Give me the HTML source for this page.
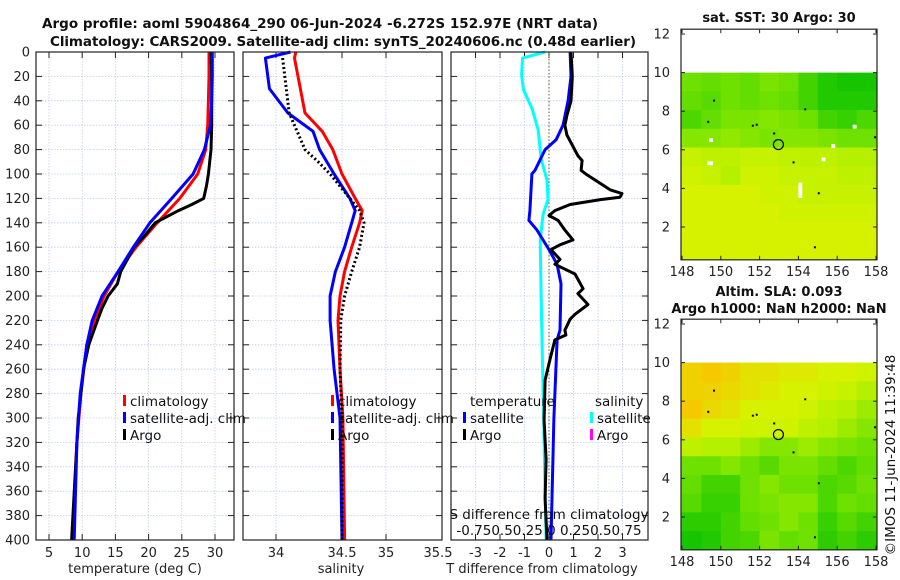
<!DOCTYPE html>
<html><head><meta charset="utf-8"><style>
html,body{margin:0;padding:0;background:#fff;}
svg{display:block;font-family:"DejaVu Sans","Liberation Sans",sans-serif;}
</style></head><body>
<svg id="fig" width="900" height="580" viewBox="0 0 900 580"></svg>
<script>
// ---------- data ----------
const depthTicks = [0,20,40,60,80,100,120,140,160,180,200,220,240,260,280,300,320,340,360,380,400];
const tempTicks = [5,10,15,20,25,30];
const salTicks = [34,34.5,35,35.5];
const salTickLabels = ["34","34.5","35","35.5"];
const diffTicks = [-3,-2,-1,0,1,2,3];
const lonTicks = [148,150,152,154,156,158];
const latTicks = [2,4,6,8,10,12];

const tClimDepth = [0,20,40,60,80,100,120,140,160,180,200,220,240,280,320,400];
const tClim = [29.1,29.1,29.0,28.9,28.6,27.4,24.7,21.3,18.1,15.4,13.3,11.8,10.7,9.8,9.2,8.5];
const tSat = [29.6,29.6,29.5,29.3,28.4,26.7,23.5,20.2,17.7,15.4,13.0,11.5,10.7,9.7,9.2,8.8];
const tArgoDepth = [0,20,40,60,80,100,110,120,125,130,140,150,160,170,180,190,200,210,220,240,260,280,300,340,400];
const tArgo = [29.4,29.5,29.5,29.5,29.4,29.0,28.7,28.3,26.5,24.5,21.0,19.5,17.8,16.8,15.8,15.3,13.9,13.0,12.3,11.0,10.2,9.8,9.4,9.0,8.4];

const sClimDepth = [0,5,50,65,80,100,120,130,140,160,180,200,220,260,300,400];
const sClim = [34.15,34.14,34.22,34.35,34.43,34.5,34.65,34.73,34.70,34.61,34.53,34.485,34.47,34.485,34.51,34.53];
const sSatDepth = [0,5,30,50,65,80,100,120,130,140,160,180,200,220,260,300,400];
const sSat = [34.11,33.92,33.95,34.09,34.28,34.33,34.44,34.59,34.65,34.61,34.53,34.45,34.41,34.41,34.44,34.485,34.5];
const sArgoDepth = [5,50,65,80,90,100,110,120,130,140,160,180,200,220,260,300,400];
const sArgo = [34.05,34.10,34.16,34.22,34.32,34.41,34.485,34.59,34.70,34.75,34.70,34.61,34.53,34.49,34.485,34.5,34.5];

const dArgoDepth = [0,20,40,52,60,68,85,89,97,100,113,116,119,121,125,130,134,138,146,154,158,162,170,174,182,194,198,207,215,219,228,232,236,252,269,302,334,366,400];
const dArgoT = [0.9,0.95,0.9,0.73,0.65,0.73,1.18,1.35,1.31,1.5,2.5,2.98,2.9,2.1,0.86,0.24,0,0.37,0.65,0.98,0.45,0.08,0.45,0.24,1.06,1.39,1.18,1.59,1.06,0.86,0.65,0.69,0.24,0.04,-0.16,-0.2,-0.12,-0.16,-0.08];
const dSatDepth = [0,20,40,60,72,80,97,100,130,138,146,162,174,190,228,236,300,400];
const dSatT = [0.86,0.9,0.78,0.57,0.29,-0.16,-0.57,-0.7,-0.78,-0.82,-0.49,0,0.33,0.49,0.45,0.33,0.2,0.08];
const dSatSDepth = [0,5,19,31,47,64,88,105,121,133,154,203,400];
const dSatS = [-0.04,-0.27,-0.28,-0.26,-0.17,-0.11,-0.08,-0.02,-0.01,-0.06,-0.09,-0.08,-0.03];

const sstGrid = [
[.5,.45,.5,.45,.55,.5,.3,.15,.1,.1],
[.45,.4,.5,.45,.5,.45,.3,.15,.15,.15],
[.35,.45,.55,.55,.6,.55,.5,.3,.25,.35],
[.6,.6,.65,.6,.55,.6,.6,.55,.5,.5],
[.9,.85,.85,.9,.9,.85,.85,.85,.8,.8],
[.95,.9,.8,.95,.95,.9,.9,.9,.85,.85],
[1,1,1,1,.95,.95,.9,.9,.9,.9],
[1,1,1,1,1,.95,.95,.95,.95,.95],
[1,1,1,1,1,1,1,1,1,1],
[1,1,1,1,1,1,1,1,1,1]];
const slaGrid = [
[1.2,1.25,1.2,1.1,1.1,1.05,1.05,1.0,1.0,.95],
[1.2,1.2,1.15,1.1,1.05,1.0,1.0,.95,.9,.8],
[1.25,1.15,1.1,1.0,1.0,1.0,.95,.85,.8,.7],
[1.1,1.0,1.0,.95,.95,.95,.85,.8,.7,.6],
[.85,.8,.8,.7,.6,.6,.7,.6,.55,.5],
[.5,.5,.6,.5,.4,.55,.55,.45,.35,.45],
[.45,.3,.3,.5,.6,.5,.5,.35,.4,.5],
[.4,.25,.25,.5,.55,.6,.6,.35,.5,.45],
[.2,.2,.3,.45,.5,.6,.5,.25,.4,.3],
[.1,.15,.3,.35,.55,.45,.5,.2,.3,.2]];

// ---------- scales ----------
const TOP=52, BOT=540;
const yD = d => TOP + d*(BOT-TOP)/400;
const xT = t => 49 + (t-5)*6.64;
const salB=[33.75,34,34.5,35,35.5], salP=[243,276,342,386,442];
function xS(s){for(let i=0;i<salB.length-1;i++){if(s<=salB[i+1]||i==salB.length-2){return salP[i]+(s-salB[i])*(salP[i+1]-salP[i])/(salB[i+1]-salB[i]);}}}
const xDT = v => 549 + 24.5*v;
const xDS = s => 549 + 98*s;
const xLon = l => 682 + (l-148)*19.4;
const yLat1 = l => 34 + (12-l)*19.3;
const yLat2 = l => 324 + (12-l)*19.3;

const NS="http://www.w3.org/2000/svg";
const svg=document.getElementById('fig');
function el(tag,attrs,parent){const e=document.createElementNS(NS,tag);for(const k in attrs)e.setAttribute(k,attrs[k]);(parent||svg).appendChild(e);return e;}
function txt(s,x,y,opts,parent){const e=el('text',Object.assign({x:x,y:y,'font-size':13,fill:'#222'},opts||{}),parent);e.textContent=s;return e;}

function panelFrame(x0,x1,y0,y1,name){
  const g=el('g',{});
  
  
  return g;
}
function box(g,x0,y0,x1,y1){
  const r=el('rect',{x:x0,y:y0,width:x1-x0,height:y1-y0,fill:'none',stroke:'#222','stroke-width':1.2},g);
  
  
}
function hgrid(g,x0,x1){
  depthTicks.forEach(d=>{const y=yD(d);
    if(d>0&&d<400){const l=el('line',{x1:x0,x2:x1,y1:y,y2:y,stroke:'#c4cbee','stroke-width':0.8,'stroke-dasharray':'1.5,1.5'},g);
    
    }
    el('line',{x1:x0,x2:x0+6,y1:y,y2:y,stroke:'#222'},g);
    el('line',{x1:x1-6,x2:x1,y1:y,y2:y,stroke:'#222'},g);
  });
}
function vgridAt(g,x,y0,y1){
  const l=el('line',{x1:x,x2:x,y1:y0,y2:y1,stroke:'#c4cbee','stroke-width':0.8,'stroke-dasharray':'1.5,1.5'},g);
  
  
  el('line',{x1:x,x2:x,y1:y1-6,y2:y1,stroke:'#222'},g);
  el('line',{x1:x,x2:x,y1:y0,y2:y0+6,stroke:'#222'},g);
}
function line(g,xs,ys,color,w,dash,name){
  const pts=xs.map((x,i)=>x.toFixed(1)+','+ys[i].toFixed(1)).join(' ');
  const p=el('polyline',{points:pts,fill:'none',stroke:color,'stroke-width':w,'stroke-linejoin':'round'},g);
  if(dash)p.setAttribute('stroke-dasharray',dash);
  
  
  return p;
}

// titles
const t1=txt('Argo profile: aoml 5904864_290 06-Jun-2024 -6.272S 152.97E (NRT data)',320,28,{'font-weight':'bold','text-anchor':'middle',textLength:556,'font-size':13.5,fill:'#111'});


const t2=txt('Climatology: CARS2009. Satellite-adj clim: synTS_20240606.nc (0.48d earlier)',343,46,{'font-weight':'bold','text-anchor':'middle',textLength:586,'font-size':13.5,fill:'#111'});



// ---------- panel 1 temperature ----------
const g1=panelFrame(36,234,TOP,BOT,'temperature-panel');
hgrid(g1,36,234);
tempTicks.forEach(t=>{vgridAt(g1,xT(t),TOP,BOT);
  const l=txt(String(t),xT(t),557,{'text-anchor':'middle'},g1);
  
  });
depthTicks.forEach(d=>{const l=txt(String(d),30,yD(d)+4.5,{'text-anchor':'end'},g1);
  
  });
line(g1,tClim.map(xT),tClimDepth.map(yD),'#ff0000',3,null,'temp-climatology-line');
line(g1,tArgo.map(xT),tArgoDepth.map(yD),'#000',3,null,'temp-argo-line');
line(g1,tSat.map(xT),tClimDepth.map(yD),'#0000ff',3,null,'temp-satellite-line');
box(g1,36,TOP,234,BOT);
const xl1=txt('temperature (deg C)',135,573,{'text-anchor':'middle'},g1);



function legend(g,bx,names,colors,ys){
  names.forEach((n,i)=>{
    const r=el('rect',{x:bx,y:ys[i]-6,width:3,height:11,fill:colors[i]},g);
    
    
    const t=txt(n,bx+7,ys[i]+5,{'font-size':13.5,fill:'#111'},g);
    
    
  });
}
legend(g1,123,['climatology','satellite-adj. clim','Argo'],['#f00','#00f','#000'],[401,418,435]);

// ---------- panel 2 salinity ----------
const g2=panelFrame(243,442,TOP,BOT,'salinity-panel');
hgrid(g2,243,442);
salTicks.forEach((s,i)=>{if(s<35.5)vgridAt(g2,xS(s),TOP,BOT);
  const l=txt(salTickLabels[i],xS(s)-(s==35.5?4:0),557,{'text-anchor':'middle'},g2);
  
  });
line(g2,sClim.map(xS),sClimDepth.map(yD),'#ff0000',3,null,'sal-climatology-line');
line(g2,sSat.map(xS),sSatDepth.map(yD),'#0000ff',3,null,'sal-satellite-line');
line(g2,sArgo.map(xS),sArgoDepth.map(yD),'#000',3,'2,2.5','sal-argo-line');
box(g2,243,TOP,442,BOT);
const xl2=txt('salinity',341,573,{'text-anchor':'middle'},g2);


legend(g2,331,['climatology','satellite-adj. clim','Argo'],['#f00','#00f','#000'],[401,418,435]);

// ---------- panel 3 differences ----------
const g3=panelFrame(451,648,TOP,BOT,'difference-panel');
hgrid(g3,451,648);
diffTicks.forEach(v=>{vgridAt(g3,xDT(v),TOP,BOT);
  const l=txt(String(v),xDT(v),557,{'text-anchor':'middle'},g3);
  
  });
const zl=el('line',{x1:549,x2:549,y1:TOP,y2:BOT,stroke:'#556b2f','stroke-width':1,'stroke-dasharray':'1.5,2'},g3);


line(g3,dSatS.map(xDS),dSatSDepth.map(yD),'#00ffff',3,null,'sal-diff-satellite-line');
line(g3,dSatT.map(xDT),dSatDepth.map(yD),'#0000ff',3,null,'temp-diff-satellite-line');
line(g3,dArgoT.map(xDT),dArgoDepth.map(yD),'#000',3,null,'temp-diff-argo-line');
box(g3,451,TOP,648,BOT);
const lt=txt('temperature',470,406,{'font-size':13.5,fill:'#111'},g3);


const ls=txt('salinity',595,406,{'font-size':13.5,fill:'#111'},g3);


legend(g3,463,['satellite','Argo'],['#00f','#000'],[418,435]);
legend(g3,590,['satellite','Argo'],['#0ff','#f0f'],[418,435]);
const sd=txt('S difference from climatology',549,519,{'text-anchor':'middle','font-size':13.5,fill:'#111'},g3);


const sdt=txt('-0.750.50.25 0  0.250.50.75',549,535,{'text-anchor':'middle','font-size':13.5,fill:'#111'},g3);


const xl3=txt('T difference from climatology',542,573,{'text-anchor':'middle'},g3);



// ---------- maps ----------
const stops=[[0,[0,190,0]],[0.5,[110,225,0]],[0.8,[180,240,0]],[1.0,[215,242,0]],[1.25,[245,200,0]]];
function cmap(v){
  for(let i=0;i<stops.length-1;i++){const a=stops[i],b=stops[i+1];
    if(v<=b[0]||i==stops.length-2){let f=(v-a[0])/(b[0]-a[0]);f=Math.max(0,Math.min(1,f));
      const c=a[1].map((x,j)=>Math.round(x+(b[1][j]-x)*f));return 'rgb('+c.join(',')+')';}}
}
function drawMap(grid,yLat,name,title,titleY){
  const g=el('g',{});
  
  
  const y0=yLat(12.25), y1=yLat(0.3);
  const nr=grid.length, nc=grid[0].length, dLat=(10-0.3)/nr;
  grid.forEach((row,r)=>row.forEach((v,c)=>{
    const xa=xLon(148+c)-(c==0?1:0), xb=xLon(149+c)+(c==nc-1?1:0);
    const ya=yLat(10-r*dLat), yb=yLat(10-(r+1)*dLat);
    const cell=el('rect',{x:xa,y:ya,width:xb-xa+0.5,height:yb-ya+0.5,fill:cmap(v)},g);
    
    
  }));
  // islands
  [[149.6,8.6],[151.8,7.35],[151.6,7.3],[154.3,8.15],[152.7,6.9],[153.7,5.4],[155,3.8],[154.8,1.0],[157.9,6.7],[149.3,7.5]].forEach(p=>{
    const d=el('rect',{x:xLon(p[0]),y:yLat(p[1]),width:2,height:2,fill:'#000'},g);
    
    
  });
  const c=el('circle',{cx:xLon(152.97),cy:yLat(6.272),r:5,fill:'none',stroke:'#000','stroke-width':1.2},g);
  
  
  const b=el('rect',{x:681,y:y0,width:196,height:y1-y0,fill:'none',stroke:'#222','stroke-width':1.2},g);
  
  
  latTicks.forEach(l=>{const y=yLat(l);
    el('line',{x1:681,x2:685,y1:y,y2:y,stroke:'#222'},g);
    el('line',{x1:873,x2:877,y1:y,y2:y,stroke:'#222'},g);
    const t=txt(String(l),670,y+4.5,{'text-anchor':'end'},g);
    
    });
  lonTicks.forEach(l=>{const x=xLon(l);
    el('line',{x1:x,x2:x,y1:y1-4,y2:y1,stroke:'#222'},g);
    el('line',{x1:x,x2:x,y1:y0,y2:y0+4,stroke:'#222'},g);
    const t=txt(String(l),x,y1+16,{'text-anchor':'middle'},g);
    
    });
  title.forEach((s,i)=>{const t=txt(s,779,titleY[i],{'text-anchor':'middle','font-weight':'bold','font-size':13,fill:'#111'},g);
    
    });
  return g;
}
const m1=drawMap(sstGrid,yLat1,'sst-map',['sat. SST: 30 Argo: 30'],[22]);
[[156.8,7.3,0.2,0.2],[149.4,6.6,0.2,0.2],[149.3,5.4,0.3,0.2],[155.7,6.3,0.2,0.2],[155.2,5.6,0.2,0.2],[154.0,4.3,0.2,0.8]].forEach(w=>{
  const r=el('rect',{x:xLon(w[0]),y:yLat1(w[1]),width:w[2]*19.4,height:w[3]*19.3,fill:'#fff'},m1);
  
  
});
drawMap(slaGrid,yLat2,'sla-map',['Altim. SLA: 0.093','Argo h1000: NaN h2000: NaN'],[296,313]);

const cp=txt('©IMOS 11-Jun-2024 11:39:48',0,0,{'text-anchor':'middle',transform:'translate(895,455) rotate(-90)','font-size':13.5,fill:'#111'});


</script>
</body></html>
